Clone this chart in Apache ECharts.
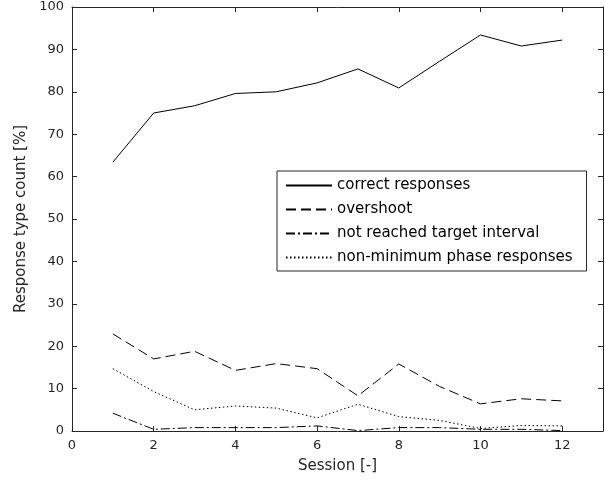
<!DOCTYPE html><html><head><meta charset="utf-8"><script src="https://cdn.jsdelivr.net/npm/echarts@6/dist/echarts.min.js"></script></head><body style="margin:0"><div id="c" style="width:605px;height:484px"></div><script>
const sessions=[1,2,3,4,5,6,7,8,9,10,11,12];
const correct=[63.4,75,76.7,79.6,80,82.1,85.4,80.9,87.2,93.4,90.8,92.2];
const overshoot=[22.9,17,18.8,14.3,15.9,14.7,8.3,15.8,10.5,6.4,7.6,7.1];
const notReached=[4.2,0.4,0.8,0.8,0.8,1.2,0.1,0.8,0.8,0.4,0.4,0.1];
const nonMin=[14.7,9.3,5,5.9,5.4,3.1,6.3,3.4,2.5,0.6,1.3,1.2];
const names=['correct responses','overshoot','not reached target interval','non-minimum phase responses'];
const types=['solid',[10,5],[9,3,2,3],[1.5,2.5]];
const F='DejaVu Sans, sans-serif';
function ax(extra){return Object.assign({axisLine:{show:true,onZero:false,lineStyle:{color:'#262626'}},axisTick:{show:true,inside:true,length:5,lineStyle:{color:'#262626'}},axisLabel:{color:'#262626',fontSize:13,fontFamily:F},splitLine:{show:false}},extra);}
const mk=(d)=>d.map((v,i)=>[sessions[i],v]);
const ch=echarts.init(document.getElementById('c'));
ch.setOption({animation:false,backgroundColor:'#fff',
grid:{left:72,right:2,top:7,bottom:53},
legend:{orient:'vertical',left:277,top:171,itemWidth:46,itemHeight:10,itemGap:9,padding:[7,14,6,8],borderColor:'#262626',borderWidth:1,backgroundColor:'#fff',itemStyle:{color:'transparent',borderWidth:0},textStyle:{fontSize:15,fontFamily:F,color:'#000'},data:names},
xAxis:[ax({type:'value',min:0,max:13,interval:2,name:'Session [-]',nameLocation:'middle',nameGap:28,nameTextStyle:{fontSize:15,fontFamily:F,color:'#262626'}}),
 ax({type:'value',min:0,max:13,interval:2,position:'top',axisLabel:{show:false}})],
yAxis:[ax({type:'value',min:0,max:100,interval:10,name:'Response type count [%]',nameLocation:'middle',nameGap:40,nameTextStyle:{fontSize:15,fontFamily:F,color:'#262626'}}),
 ax({type:'value',min:0,max:100,interval:10,position:'right',axisLabel:{show:false}})],
series:[correct,overshoot,notReached,nonMin].map((d,i)=>({name:names[i],type:'line',data:mk(d),symbol:'none',lineStyle:{color:'#000',width:1,type:types[i]},itemStyle:{color:'#000'}}))
});
ch.setOption({xAxis:[{axisLabel:{showMaxLabel:false}},{}]});
</script></body></html>
